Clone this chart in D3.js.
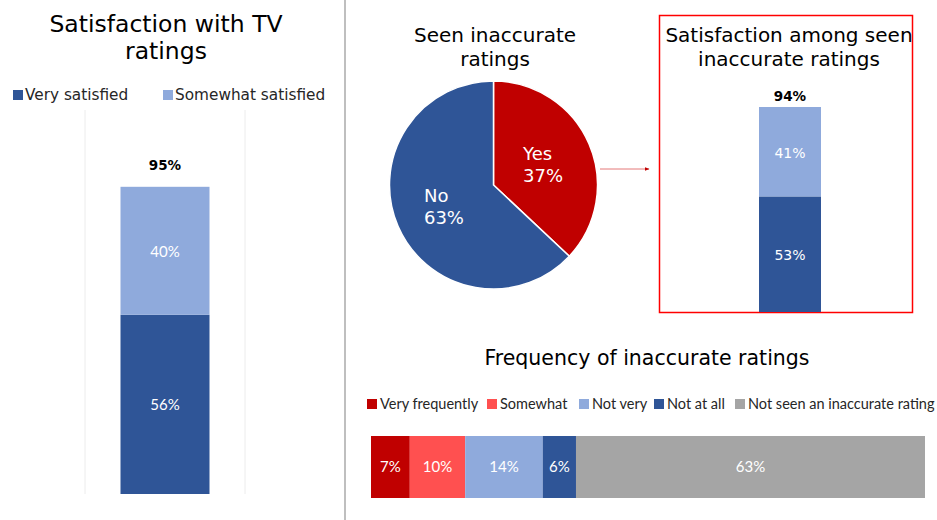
<!DOCTYPE html>
<html>
<head>
<meta charset="utf-8">
<script src="https://cdn.jsdelivr.net/npm/d3@7"></script>
<style>
body { margin: 0; background: #fff; }
svg { display: block; }
text { font-family: "DejaVu Sans", Verdana, sans-serif; }
.cal { font-family: Lato, "Open Sans", sans-serif; }
</style>
</head>
<body>
<svg width="937" height="520"></svg>
<script>
// satisfaction with TV ratings (all)
var satKeys = ["Very satisfied", "Somewhat satisfied"];
var satAll = [56, 40];
var satAllTotal = "95%";
// satisfaction among those who saw inaccurate ratings
var satSeen = [53, 41];
var satSeenTotal = "94%";
// seen inaccurate ratings pie
var seenLabels = ["Yes", "No"];
var seenValues = [37, 63];
// frequency of inaccurate ratings
var freqKeys = ["Very frequently", "Somewhat", "Not very", "Not at all", "Not seen an inaccurate rating"];
var freqValues = [7, 10, 14, 6, 63];

var satColors = ["#2F5597", "#8FAADC"];
var freqColors = ["#C00000", "#FF5050", "#8FAADC", "#2F5597", "#A5A5A5"];
var pieColors = ["#C00000", "#2F5597"];

var svg = d3.select("svg");

// divider
svg.append("line").attr("x1", 345).attr("x2", 345).attr("y1", 0).attr("y2", 520)
    .attr("stroke", "#bfbfbf").attr("stroke-width", 2);

// ---------- left: satisfaction with TV ratings
var left = svg.append("g");
left.selectAll(".t").data(["Satisfaction with TV", "ratings"]).enter().append("text")
    .attr("x", 166).attr("y", (d, i) => 32 + i * 27)
    .attr("text-anchor", "middle").attr("font-size", 23.5).attr("fill", "#000")
    .text(d => d);

var lg = left.selectAll(".lg").data(satKeys).enter().append("g")
    .attr("transform", (d, i) => "translate(" + (13 + i * 150) + ",95)");
lg.append("rect").attr("y", -5).attr("width", 10).attr("height", 10).attr("fill", (d, i) => satColors[i]);
lg.append("text").attr("x", 12).attr("y", 5).attr("font-size", 15.3).attr("fill", "#262626").text(d => d);

var xL = d3.scaleBand().domain(["all"]).range([85, 245]).paddingInner(0).paddingOuter(0);
var yL = d3.scaleLinear().domain([0, 100]).range([494, 174]);

left.selectAll(".grid").data(xL.range()).enter().append("line")
    .attr("x1", d => d).attr("x2", d => d).attr("y1", 110).attr("y2", 494)
    .attr("stroke", "#ececec").attr("stroke-width", 1);

var stackL = d3.stack().keys([0, 1])([satAll]);
var bwL = 89;
var cxL = xL("all") + xL.bandwidth() / 2;
left.selectAll(".seg").data(stackL).enter().append("rect")
    .attr("x", cxL - bwL / 2).attr("width", bwL)
    .attr("y", d => yL(d[0][1])).attr("height", d => yL(d[0][0]) - yL(d[0][1]))
    .attr("fill", (d, i) => satColors[i]);
left.selectAll(".lab").data(stackL).enter().append("text")
    .attr("class", "cal")
    .attr("x", cxL).attr("y", d => (yL(d[0][0]) + yL(d[0][1])) / 2 + 6)
    .attr("text-anchor", "middle").attr("font-size", 15).attr("fill", "#fff")
    .text(d => satAll[d.key] + "%");
left.append("text").attr("x", cxL).attr("y", yL(d3.sum(satAll)) - 17)
    .attr("text-anchor", "middle").attr("font-size", 13.5).attr("font-weight", "bold").attr("fill", "#000")
    .text(satAllTotal);

// ---------- pie: seen inaccurate ratings
var pieG = svg.append("g");
pieG.selectAll(".t").data(["Seen inaccurate", "ratings"]).enter().append("text")
    .attr("x", 495).attr("y", (d, i) => 42 + i * 24)
    .attr("text-anchor", "middle").attr("font-size", 20).attr("fill", "#000")
    .text(d => d);

var pie = d3.pie().sort(null)(seenValues);
var arc = d3.arc().innerRadius(0).outerRadius(104);
var pc = pieG.append("g").attr("transform", "translate(493.5,185)");
pc.selectAll("path").data(pie).enter().append("path")
    .attr("d", arc).attr("fill", (d, i) => pieColors[i])
    .attr("stroke", "#fff").attr("stroke-width", 1.5);
var labArc = d3.arc().innerRadius(54).outerRadius(54);
var pl = pc.selectAll(".pl").data(pie).enter().append("text")
    .attr("transform", d => { var c = labArc.centroid(d); return "translate(" + (c[0] - 20) + "," + c[1] + ")"; })
    .attr("font-size", 18).attr("fill", "#fff");
pl.append("tspan").attr("x", 0).attr("y", -4).text((d, i) => seenLabels[i]);
pl.append("tspan").attr("x", 0).attr("y", 18).text(d => d.value + "%");

// arrow
var defs = svg.append("defs");
defs.append("marker").attr("id", "arr").attr("viewBox", "0 0 10 10").attr("refX", 9).attr("refY", 5)
    .attr("markerWidth", 5).attr("markerHeight", 5).attr("orient", "auto")
    .append("path").attr("d", "M0,1L10,5L0,9Z").attr("fill", "#C00000");
svg.append("line").attr("x1", 600).attr("x2", 649).attr("y1", 169).attr("y2", 169)
    .attr("stroke", "#E47878").attr("stroke-width", 1).attr("marker-end", "url(#arr)");

// ---------- boxed: satisfaction among seen
var box = svg.append("g");
box.append("rect").attr("x", 659.5).attr("y", 15.5).attr("width", 253).attr("height", 297)
    .attr("fill", "none").attr("stroke", "#FF0000").attr("stroke-width", 1.5);
box.selectAll(".t").data(["Satisfaction among seen", "inaccurate ratings"]).enter().append("text")
    .attr("x", 789).attr("y", (d, i) => 42 + i * 24)
    .attr("text-anchor", "middle").attr("font-size", 20).attr("fill", "#000")
    .text(d => d);

var yR = d3.scaleLinear().domain([0, 94]).range([312, 107]);
var stackR = d3.stack().keys([0, 1])([satSeen]);
box.selectAll(".seg").data(stackR).enter().append("rect")
    .attr("x", 759).attr("width", 62)
    .attr("y", d => yR(d[0][1])).attr("height", d => yR(d[0][0]) - yR(d[0][1]))
    .attr("fill", (d, i) => satColors[i]);
box.selectAll(".lab").data(stackR).enter().append("text")
    .attr("x", 790).attr("y", d => (yR(d[0][0]) + yR(d[0][1])) / 2 + 6)
    .attr("text-anchor", "middle").attr("font-size", 14).attr("fill", "#fff")
    .text(d => satSeen[d.key] + "%");
box.append("text").attr("x", 790).attr("y", 101)
    .attr("text-anchor", "middle").attr("font-size", 13.5).attr("font-weight", "bold").attr("fill", "#000")
    .text(satSeenTotal);

// ---------- bottom: frequency of inaccurate ratings
var bot = svg.append("g");
bot.append("text").attr("x", 647).attr("y", 365).attr("text-anchor", "middle")
    .attr("font-size", 20.5).attr("fill", "#000").text("Frequency of inaccurate ratings");

var legX = [367, 487, 579, 654, 735];
var bl = bot.selectAll(".lg").data(freqKeys).enter().append("g")
    .attr("transform", (d, i) => "translate(" + legX[i] + ",404)");
bl.append("rect").attr("y", -5).attr("width", 10).attr("height", 10).attr("fill", (d, i) => freqColors[i]);
bl.append("text").attr("class", "cal").attr("x", 13).attr("y", 5).attr("font-size", 14.5).attr("fill", "#262626").text(d => d);

var xB = d3.scaleLinear().domain([0, 100]).range([371, 925]);
var stackB = d3.stack().keys(d3.range(freqValues.length))([freqValues]);
bot.selectAll(".seg").data(stackB).enter().append("rect")
    .attr("x", d => xB(d[0][0])).attr("width", d => xB(d[0][1]) - xB(d[0][0]))
    .attr("y", 436).attr("height", 62)
    .attr("fill", (d, i) => freqColors[i]);
bot.selectAll(".lab").data(stackB).enter().append("text")
    .attr("class", "cal")
    .attr("x", d => (xB(d[0][0]) + xB(d[0][1])) / 2).attr("y", 472)
    .attr("text-anchor", "middle").attr("font-size", 15).attr("fill", "#fff")
    .text(d => freqValues[d.key] + "%");
</script>
</body>
</html>
